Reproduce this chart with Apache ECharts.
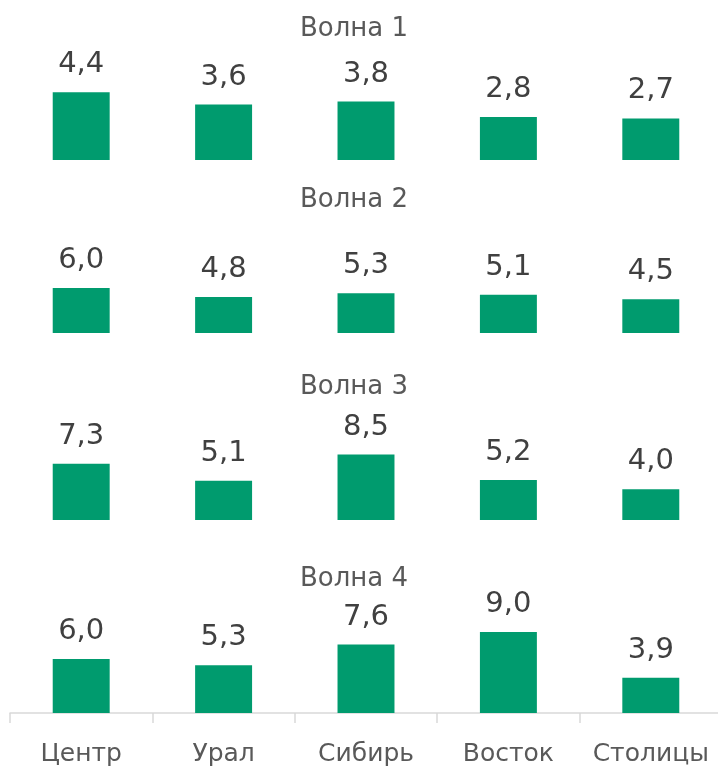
<!DOCTYPE html>
<html>
<head>
<meta charset="utf-8">
<script src="https://cdn.jsdelivr.net/npm/echarts@6/dist/echarts.min.js"></script>
<style>
  html, body { margin: 0; padding: 0; background: #fff; }
  #chart { width: 718px; height: 766px; }
</style>
</head>
<body>
<div id="chart"></div>
<script>
// регионы
const regions = ["Центр", "Урал", "Сибирь", "Восток", "Столицы"];
const waveNames = ["Волна 1", "Волна 2", "Волна 3", "Волна 4"];
const wave1 = [4.4, 3.6, 3.8, 2.8, 2.7];
const wave2 = [6.0, 4.8, 5.3, 5.1, 4.5];
const wave3 = [7.3, 5.1, 8.5, 5.2, 4.0];
const wave4 = [6.0, 5.3, 7.6, 9.0, 3.9];
const waves = [wave1, wave2, wave3, wave4];

// раскладка панелей
const gridBottoms = [160, 333, 520, 713];
const gridH = 100;
const yMax = [6.5, 13.3, 13.0, 11.1];
const titleTops = [11, 182, 369, 561];
const font = "'DejaVu Sans', sans-serif";

const fmt = v => v.toFixed(1).replace(".", ",");

const grid = [], xAxis = [], yAxis = [], series = [], title = [];
waves.forEach((data, i) => {
  grid.push({ left: 10, right: -4, top: gridBottoms[i] - gridH, height: gridH, outerBoundsMode: "none" });
  const last = i === waves.length - 1;
  xAxis.push({
    type: "category",
    gridIndex: i,
    data: regions,
    axisLine: { show: last, lineStyle: { color: "#d9d9d9", width: 1.5 } },
    axisTick: { show: last, interval: 0, length: 10, lineStyle: { color: "#d9d9d9", width: 1.5 } },
    axisLabel: { show: last, interval: 0, color: "#595959", fontSize: 25, fontFamily: font, margin: 29 }
  });
  yAxis.push({
    type: "value",
    gridIndex: i,
    min: 0,
    max: yMax[i],
    show: false,
    splitLine: { show: false }
  });
  series.push({
    type: "bar",
    xAxisIndex: i,
    yAxisIndex: i,
    data: data,
    barWidth: "40%",
    itemStyle: { color: "#009B6E" },
    label: {
      show: true,
      position: "top",
      distance: 13,
      color: "#404040",
      fontSize: 29,
      fontFamily: font,
      formatter: p => fmt(p.value)
    }
  });
  title.push({
    text: waveNames[i],
    left: 295,
    top: titleTops[i],
    textStyle: { color: "#595959", fontSize: 26, fontWeight: "normal", fontFamily: font }
  });
});

const myChart = echarts.init(document.getElementById("chart"));
myChart.setOption({ animation: false, title, grid, xAxis, yAxis, series });
window.addEventListener("resize", () => myChart.resize());
</script>
</body>
</html>
